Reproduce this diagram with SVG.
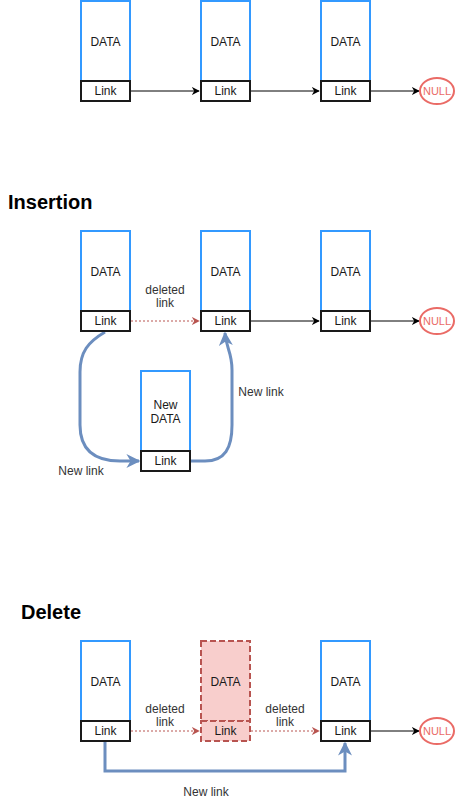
<svg xmlns="http://www.w3.org/2000/svg" width="457" height="811" viewBox="0 0 457 811">
<defs>
<style>
text{font-family:"Liberation Sans",Arial,sans-serif;font-size:12px;fill:#1a1a1a;text-anchor:middle}
.title{font-size:20px;font-weight:bold;text-anchor:start;fill:#000}
.data{fill:#fff;stroke:#3399ff;stroke-width:2}
.link{fill:#fff;stroke:#1a1a1a;stroke-width:2}
.ddata{fill:#f8cecc;stroke:#b85450;stroke-width:2;stroke-dasharray:6 3}
.null{fill:#fff;stroke:#ea6b66;stroke-width:2}
.nulltxt{fill:#ea6b66;font-size:11px}
.lbl{font-size:12px;fill:#333}
.c{fill:none;stroke:#000;stroke-width:1}
.del{fill:none;stroke:#b85450;stroke-width:1;stroke-dasharray:2 2}
.nl{fill:none;stroke:#6c8ebf;stroke-width:3}
</style>
<marker id="ab" viewBox="0 0 10 10" refX="9" refY="5" markerWidth="8" markerHeight="8" markerUnits="userSpaceOnUse" orient="auto"><path d="M0,0 L10,5 L0,10 L3,5 Z" fill="#000"/></marker>
<marker id="ar" viewBox="0 0 10 10" refX="9" refY="5" markerWidth="8" markerHeight="8" markerUnits="userSpaceOnUse" orient="auto"><path d="M0,0 L10,5 L0,10 L3,5 Z" fill="#b85450"/></marker>
<marker id="abl" viewBox="0 0 10 10" refX="9" refY="5" markerWidth="14" markerHeight="14" markerUnits="userSpaceOnUse" orient="auto"><path d="M0,0 L10,5 L0,10 L3,5 Z" fill="#6c8ebf"/></marker>
</defs>

<g id="connectors">
<line class="c" x1="131" y1="91" x2="199" y2="91" marker-end="url(#ab)"/>
<line class="c" x1="251" y1="91" x2="319" y2="91" marker-end="url(#ab)"/>
<line class="c" x1="371" y1="91" x2="419" y2="91" marker-end="url(#ab)"/>

<line class="del" x1="131" y1="321" x2="199" y2="321" marker-end="url(#ar)"/>
<line class="c" x1="251" y1="321" x2="319" y2="321" marker-end="url(#ab)"/>
<line class="c" x1="371" y1="321" x2="419" y2="321" marker-end="url(#ab)"/>
<path class="nl" d="M105,332 C88,342 80,352 80,372 L80,425 C80,450 95,461 120,461 L139,461" marker-end="url(#abl)"/>
<path class="nl" d="M190,461 L205,461 C225,461 232,448 232,425 L232,370 C232,352 226,348 225,333" marker-end="url(#abl)"/>

<line class="del" x1="131" y1="731" x2="199" y2="731" marker-end="url(#ar)"/>
<line class="del" x1="251" y1="731" x2="319" y2="731" marker-end="url(#ar)"/>
<line class="c" x1="371" y1="731" x2="419" y2="731" marker-end="url(#ab)"/>
<path class="nl" d="M105,742 L105,771 L345,771 L345,743" marker-end="url(#abl)"/>

<text class="lbl" x="165" y="294">deleted</text>
<text class="lbl" x="165" y="307">link</text>
<text class="lbl" x="81" y="475">New link</text>
<text class="lbl" x="261" y="396">New link</text>
<text class="lbl" x="165" y="713">deleted</text>
<text class="lbl" x="165" y="726">link</text>
<text class="lbl" x="285" y="713">deleted</text>
<text class="lbl" x="285" y="726">link</text>
<text class="lbl" x="206" y="796">New link</text>
</g>

<text class="title" x="8" y="209">Insertion</text>
<text class="title" x="21" y="619">Delete</text>

<g id="r1n1"><rect class="data" x="81" y="1" width="49" height="80"/><text x="105.5" y="46">DATA</text><rect class="link" x="81" y="81" width="49" height="20"/><text x="105.5" y="95">Link</text></g>
<g id="r1n2"><rect class="data" x="201" y="1" width="49" height="80"/><text x="225.5" y="46">DATA</text><rect class="link" x="201" y="81" width="49" height="20"/><text x="225.5" y="95">Link</text></g>
<g id="r1n3"><rect class="data" x="321" y="1" width="49" height="80"/><text x="345.5" y="46">DATA</text><rect class="link" x="321" y="81" width="49" height="20"/><text x="345.5" y="95">Link</text></g>
<g id="r1null"><ellipse class="null" cx="437" cy="91" rx="17" ry="13"/><text class="nulltxt" x="437" y="95">NULL</text></g>

<g id="r2n1"><rect class="data" x="81" y="231" width="49" height="80"/><text x="105.5" y="276">DATA</text><rect class="link" x="81" y="311" width="49" height="20"/><text x="105.5" y="325">Link</text></g>
<g id="r2n2"><rect class="data" x="201" y="231" width="49" height="80"/><text x="225.5" y="276">DATA</text><rect class="link" x="201" y="311" width="49" height="20"/><text x="225.5" y="325">Link</text></g>
<g id="r2n3"><rect class="data" x="321" y="231" width="49" height="80"/><text x="345.5" y="276">DATA</text><rect class="link" x="321" y="311" width="49" height="20"/><text x="345.5" y="325">Link</text></g>
<g id="r2null"><ellipse class="null" cx="437" cy="321" rx="17" ry="13"/><text class="nulltxt" x="437" y="325">NULL</text></g>
<g id="newnode"><rect class="data" x="141" y="371" width="49" height="80"/><text x="165.5" y="409">New</text><text x="165.5" y="423">DATA</text><rect class="link" x="141" y="451" width="49" height="20"/><text x="165.5" y="465">Link</text></g>

<g id="r3n1"><rect class="data" x="81" y="641" width="49" height="80"/><text x="105.5" y="686">DATA</text><rect class="link" x="81" y="721" width="49" height="20"/><text x="105.5" y="735">Link</text></g>
<g id="r3n2"><rect class="ddata" x="201" y="641" width="49" height="80"/><text x="225.5" y="686">DATA</text><rect class="ddata" x="201" y="721" width="49" height="20"/><text x="225.5" y="735">Link</text></g>
<g id="r3n3"><rect class="data" x="321" y="641" width="49" height="80"/><text x="345.5" y="686">DATA</text><rect class="link" x="321" y="721" width="49" height="20"/><text x="345.5" y="735">Link</text></g>
<g id="r3null"><ellipse class="null" cx="437" cy="731" rx="17" ry="13"/><text class="nulltxt" x="437" y="735">NULL</text></g>
</svg>
